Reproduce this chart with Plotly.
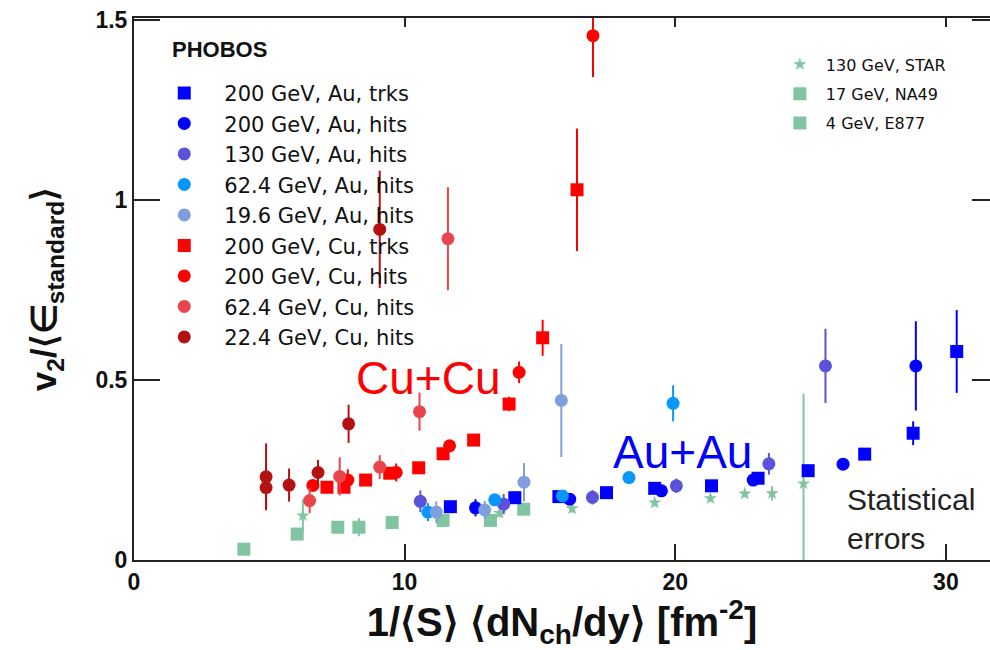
import plotly.graph_objects as go

# ---------------- data ----------------
au200_trk_x = [11.69, 14.07, 15.70, 17.46, 19.24, 21.34, 23.06, 24.91, 27.00, 28.79, 30.40]
au200_trk_y = [0.148, 0.173, 0.176, 0.187, 0.199, 0.206, 0.227, 0.248, 0.294, 0.352, 0.579]
au200_trk_e = [0.010, 0.010, 0.010, 0.010, 0.010, 0.010, 0.010, 0.010, 0.010, 0.033, 0.115]

au200_hit_x = [12.62, 16.10, 19.49, 22.88, 26.20, 28.89]
au200_hit_y = [0.145, 0.169, 0.192, 0.222, 0.266, 0.539]
au200_hit_e = [0.024, 0.010, 0.010, 0.010, 0.012, 0.124]

au130_x = [10.58, 13.66, 16.94, 20.04, 23.46, 25.55]
au130_y = [0.163, 0.155, 0.174, 0.206, 0.267, 0.539]
au130_e = [0.030, 0.028, 0.020, 0.020, 0.030, 0.103]

au62_x = [10.86, 13.33, 15.83, 18.29, 19.92]
au62_y = [0.133, 0.167, 0.178, 0.229, 0.435]
au62_e = [0.025, 0.012, 0.012, 0.010, 0.050]

au19_x = [11.17, 12.96, 14.41, 15.79]
au19_y = [0.133, 0.139, 0.216, 0.443]
au19_e = [0.030, 0.025, 0.053, 0.157]

cu200_trk_x = [7.13, 7.76, 8.56, 9.45, 10.52, 11.42, 12.55, 13.86, 15.10, 16.37]
cu200_trk_y = [0.202, 0.202, 0.222, 0.241, 0.256, 0.295, 0.333, 0.433, 0.617, 1.028]
cu200_trk_e = [0.010, 0.010, 0.010, 0.010, 0.010, 0.010, 0.010, 0.020, 0.050, 0.170]

cu200_hit_x = [6.61, 7.90, 9.69, 11.66, 14.23, 16.96]
cu200_hit_y = [0.207, 0.222, 0.243, 0.317, 0.521, 1.456]
cu200_hit_e = [0.012, 0.030, 0.025, 0.015, 0.030, 0.115]

cu62_x = [6.49, 7.60, 9.08, 10.55, 11.60]
cu62_y = [0.165, 0.232, 0.258, 0.412, 0.892]
cu62_e = [0.035, 0.053, 0.033, 0.053, 0.143]

cu22_x = [4.88, 4.88, 5.73, 6.80, 7.93, 9.08]
cu22_y = [0.231, 0.201, 0.208, 0.243, 0.378, 0.918]
cu22_e = [0.093, 0.060, 0.046, 0.035, 0.053, 0.163]

star_x = [6.24, 13.51, 16.19, 19.24, 21.30, 22.57, 23.58, 24.74]
star_y = [0.123, 0.130, 0.143, 0.159, 0.171, 0.184, 0.185, 0.212]
star_e = [0.045, 0.012, 0.012, 0.010, 0.010, 0.010, 0.020, 0.250]

na49_x = [6.03, 7.53, 8.31, 9.54, 11.42, 13.17, 14.40]
na49_y = [0.072, 0.091, 0.091, 0.104, 0.110, 0.110, 0.141]
na49_e = [0.010, 0.010, 0.025, 0.010, 0.010, 0.010, 0.010]

e877_x = [4.06]
e877_y = [0.030]
e877_e = [0.005]

x_ticks = [0, 10, 20, 30]
y_ticks = [0, 0.5, 1, 1.5]
y_tick_labels = ["0", "0.5", "1", "1.5"]

FONT = "Liberation Sans, Arial, Helvetica, sans-serif"
LFONT = "DejaVu Sans, Liberation Sans, sans-serif"
GREEN = "#80c4a2"

fig = go.Figure()


def add(x, y, e, name, color, symbol, size, legend):
    fig.add_trace(go.Scatter(
        x=x, y=y, mode="markers", name=name,
        marker=dict(color=color, symbol=symbol, size=size, line=dict(width=0)),
        error_y=dict(type="data", array=e, visible=True, color=color,
                     thickness=2, width=0),
        legend=legend, legendgroup=name,
        cliponaxis=True,
    ))


# reference experiments (drawn first, underneath)
add(star_x, star_y, star_e, "130 GeV, STAR", GREEN, "star", 10, "legend2")
add(na49_x, na49_y, na49_e, "17 GeV, NA49", GREEN, "square", 13, "legend2")
add(e877_x, e877_y, e877_e, "4 GeV, E877", GREEN, "square", 13, "legend2")

# PHOBOS
add(au200_trk_x, au200_trk_y, au200_trk_e, "200 GeV, Au, trks", "#0000ff", "square", 13, "legend")
add(au200_hit_x, au200_hit_y, au200_hit_e, "200 GeV, Au, hits", "#0000ff", "circle", 13, "legend")
add(au130_x, au130_y, au130_e, "130 GeV, Au, hits", "#5a52d9", "circle", 13, "legend")
add(au62_x, au62_y, au62_e, "62.4 GeV, Au, hits", "#0a96ff", "circle", 13, "legend")
add(au19_x, au19_y, au19_e, "19.6 GeV, Au, hits", "#7f9fdc", "circle", 13, "legend")
add(cu200_trk_x, cu200_trk_y, cu200_trk_e, "200 GeV, Cu, trks", "#ff0000", "square", 13, "legend")
add(cu200_hit_x, cu200_hit_y, cu200_hit_e, "200 GeV, Cu, hits", "#ff0000", "circle", 13, "legend")
add(cu62_x, cu62_y, cu62_e, "62.4 GeV, Cu, hits", "#e8464c", "circle", 13, "legend")
add(cu22_x, cu22_y, cu22_e, "22.4 GeV, Cu, hits", "#b31212", "circle", 13, "legend")

# dummy trace to bring the mirror axes (top / right ticks) to life
fig.add_trace(go.Scatter(x=[], y=[], xaxis="x2", yaxis="y2", showlegend=False,
                         hoverinfo="skip"))

XR = [0, 31.63]
YR = [0, 1.505]
AX = "#222222"

fig.update_layout(
    width=990, height=650, autosize=False,
    margin=dict(l=134, r=0, t=18, b=90, pad=0),
    paper_bgcolor="white", plot_bgcolor="white",
    font=dict(family=FONT, color="#111111"),
    xaxis=dict(
        range=XR, tickvals=x_ticks, ticks="inside", ticklen=16, tickwidth=2,
        tickcolor=AX, showline=True, linewidth=2, linecolor=AX,
        showgrid=False, zeroline=False,
        tickfont=dict(family=FONT, size=23, weight="bold", color="#111111"),
        title=dict(text="1/⟨S⟩ ⟨dN<sub>ch</sub>/dy⟩ [fm<sup>-2</sup>]",
                   font=dict(family=FONT, size=40, weight="bold", color="#111111"),
                   standoff=6),
    ),
    yaxis=dict(
        range=YR, tickvals=y_ticks, ticktext=y_tick_labels, ticks="inside",
        ticklen=26, tickwidth=2, tickcolor=AX, showline=True, linewidth=2,
        linecolor=AX, showgrid=False, zeroline=False,
        tickfont=dict(family=FONT, size=23, weight="bold", color="#111111"),
        title=dict(text="v<sub>2</sub>/⟨∈<sub>standard</sub>⟩",
                   font=dict(family=FONT, size=35, weight="bold", color="#111111"),
                   standoff=28),
    ),
    xaxis2=dict(
        range=XR, overlaying="x", side="top", anchor="y", tickvals=x_ticks,
        ticks="inside", ticklen=9, tickwidth=2, tickcolor=AX,
        showline=True, linewidth=2, linecolor=AX, showticklabels=False,
        showgrid=False, zeroline=False,
    ),
    yaxis2=dict(
        range=YR, overlaying="y", side="right", anchor="x", tickvals=y_ticks,
        ticks="inside", ticklen=18, tickwidth=2, tickcolor=AX,
        showline=False, showticklabels=False, showgrid=False, zeroline=False,
    ),
    legend=dict(
        x=0.012, y=0.899, xanchor="left", yanchor="top",
        bgcolor="rgba(0,0,0,0)", borderwidth=0,
        font=dict(family=LFONT, size=21, color="#111111"),
        itemwidth=70, traceorder="grouped", tracegroupgap=0.2,
        itemclick=False,
    ),
    legend2=dict(
        x=0.7475, y=0.9456, xanchor="left", yanchor="top",
        bgcolor="rgba(0,0,0,0)", borderwidth=0,
        font=dict(family=LFONT, size=16, color="#111111"),
        itemwidth=42, traceorder="grouped", tracegroupgap=5.5,
        itemclick=False,
    ),
    showlegend=True,
    annotations=[
        dict(text="<b>PHOBOS</b>", xref="paper", yref="paper", x=0.042, y=0.941,
             xanchor="left", yanchor="middle", showarrow=False,
             font=dict(family=FONT, size=22, color="#111111")),
        dict(text="Cu+Cu", xref="paper", yref="paper", x=0.3435, y=0.336,
             xanchor="center", yanchor="middle", showarrow=False,
             font=dict(family=FONT, size=46, color="#ff0000")),
        dict(text="Au+Au", xref="paper", yref="paper", x=0.641, y=0.199,
             xanchor="center", yanchor="middle", showarrow=False,
             font=dict(family=FONT, size=46, color="#0000ff")),
        dict(text="Statistical<br>errors", xref="paper", yref="paper",
             x=0.8306, y=0.0757, xanchor="left", yanchor="middle", align="left",
             showarrow=False,
             font=dict(family=FONT, size=30, color="#222222")),
    ],
)

fig.write_html("out.html")
